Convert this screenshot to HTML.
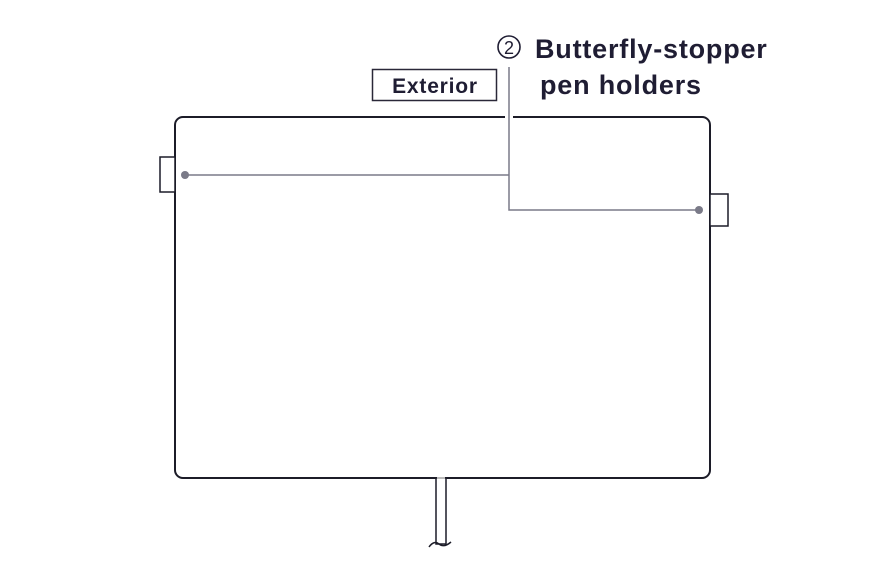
<!DOCTYPE html>
<html><head><style>
body{margin:0;background:#fff;}
svg{display:block}
</style></head><body>
<svg width="880" height="576" viewBox="0 0 880 576" xmlns="http://www.w3.org/2000/svg">
<rect x="175" y="117" width="535" height="361" rx="8" fill="none" stroke="#1c1c28" stroke-width="2"/>
<line x1="505" y1="117" x2="513" y2="117" stroke="#fff" stroke-width="4"/>
<rect x="160" y="157" width="15" height="35" fill="#fff" stroke="#1c1c28" stroke-width="1.5"/>
<rect x="710" y="194" width="18" height="32" fill="#fff" stroke="#1c1c28" stroke-width="1.5"/>
<rect x="436" y="478" width="10" height="66" fill="#fff" stroke="#1c1c28" stroke-width="1.5"/>
<line x1="437" y1="478" x2="445" y2="478" stroke="#bbb" stroke-width="2"/>
<path d="M429 547 Q434 540 439 544 Q444 548 451 542" fill="none" stroke="#1c1c28" stroke-width="1.5"/>
<g stroke="#7a7a88" stroke-width="1.5" fill="none">
<polyline points="185,175 509,175"/>
<polyline points="509,67 509,210 699,210"/>
</g>
<circle cx="185" cy="175" r="4" fill="#7a7a88"/>
<circle cx="699" cy="210" r="4" fill="#7a7a88"/>
<rect x="372.5" y="69.5" width="124" height="31" fill="#fff" stroke="#2a2838" stroke-width="1.5"/>
<text x="435" y="93" text-anchor="middle" font-family="Liberation Sans, sans-serif" font-weight="bold" font-size="21" fill="#1f1d33" letter-spacing="0.8">Exterior</text>
<circle cx="509" cy="47" r="11" fill="none" stroke="#1f1d33" stroke-width="1.6"/>
<text x="509" y="54" text-anchor="middle" font-family="Liberation Sans, sans-serif" font-size="18" fill="#1f1d33">2</text>
<text x="535" y="58" font-family="Liberation Sans, sans-serif" font-weight="bold" font-size="27" fill="#1f1d33" letter-spacing="0.8">Butterfly-stopper</text>
<text x="540" y="94" font-family="Liberation Sans, sans-serif" font-weight="bold" font-size="27" fill="#1f1d33" letter-spacing="0.8">pen holders</text>
</svg>
</body></html>
